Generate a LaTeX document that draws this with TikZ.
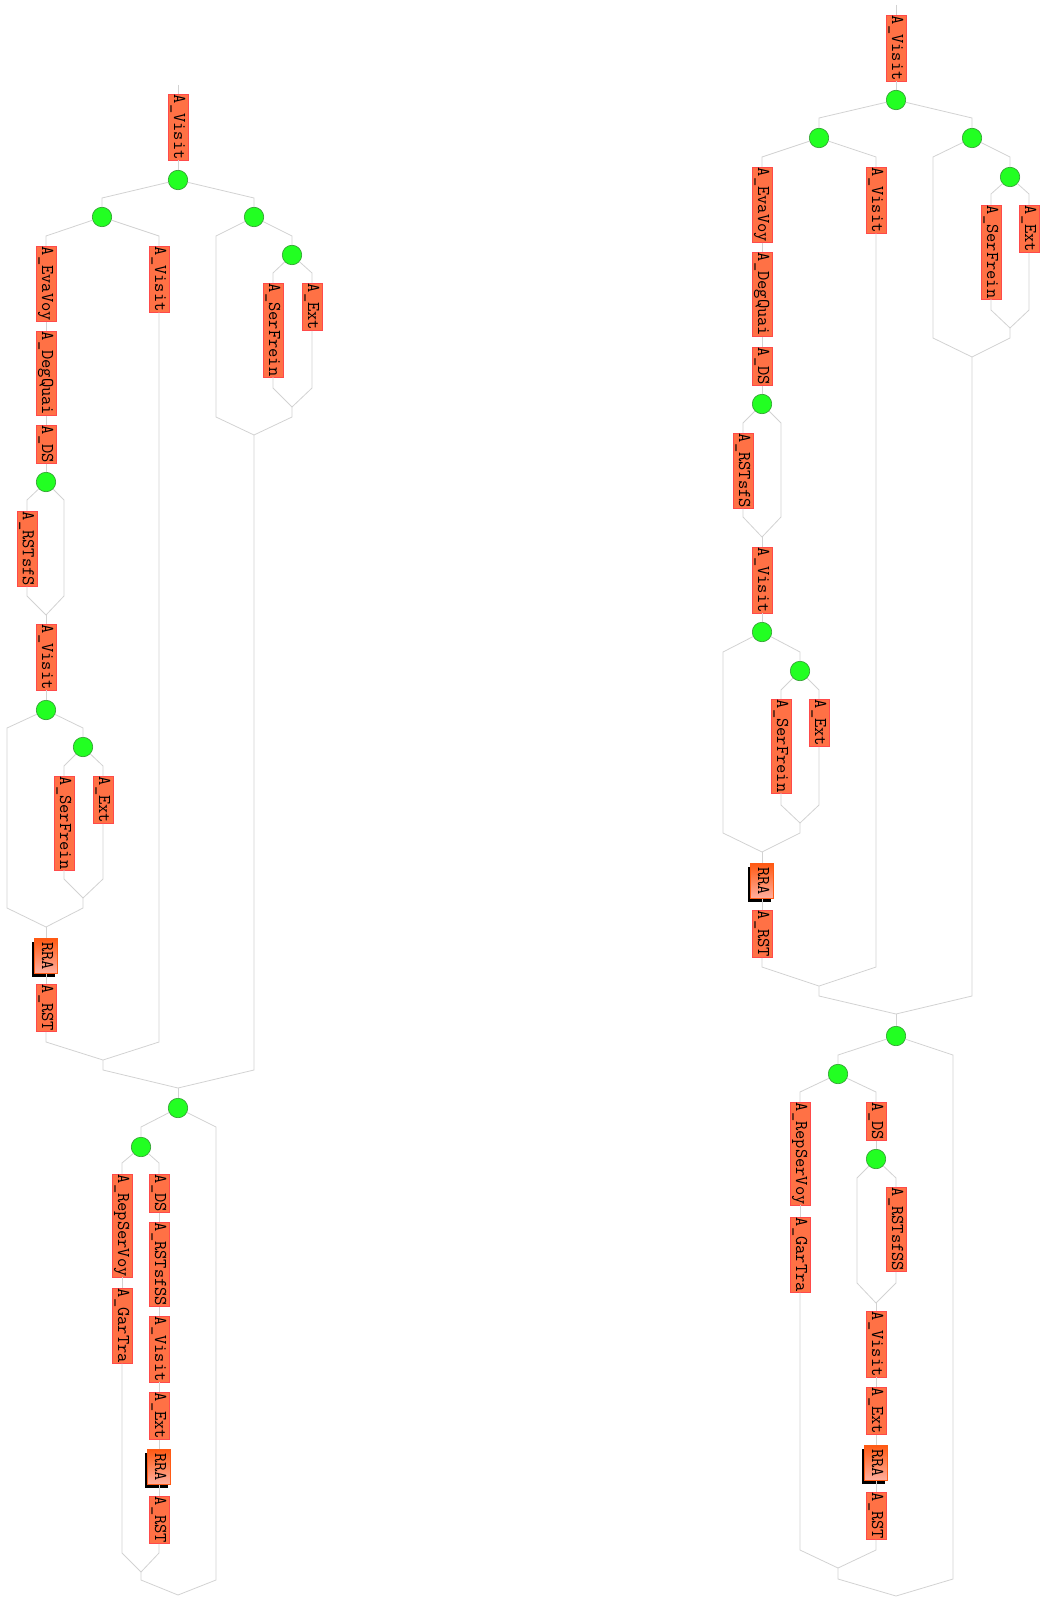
\documentclass[tikz,border=0pt]{standalone}
\usepackage{fontspec}
\usetikzlibrary{shadows}
\definecolor{actfill}{HTML}{FF7145}
\definecolor{actline}{HTML}{FF4A4A}
\definecolor{gatefill}{HTML}{22FF22}
\definecolor{gateline}{HTML}{2F9A2F}
\definecolor{linkgray}{HTML}{D2D2D2}
\definecolor{rraline}{HTML}{FF5A14}
\definecolor{rralight}{HTML}{FFB0A0}

\begin{document}
\begin{tikzpicture}[x=1pt,y=-1pt,
  actbox/.style={rectangle,draw=actline,fill=actfill,line width=0.5pt,rotate=-90,anchor=west,
    font=\fontsize{18}{18}\selectfont\ttfamily,inner xsep=0.5pt,inner ysep=0pt,
    text height=12pt,text depth=4pt,minimum height=20pt},
  rrabox/.style={actbox,draw=rraline,line width=1.5pt,top color=rraline,bottom color=rralight,
    inner xsep=3.5pt,minimum height=23pt,
    drop shadow={shadow xshift=-2.5pt,shadow yshift=-3pt,opacity=1,fill=black}},
  gate/.style={circle,draw=gateline,fill=gatefill,line width=0.6pt,minimum size=19.5pt,inner sep=0pt},
  link/.style={draw=linkgray,line width=0.8pt}]
  \useasboundingbox (0,0) rectangle (1042,1597);

  % left tree
  \coordinate (ltop) at (178,85);
  \node[actbox] (lvisit) at (178,94) {A\_Visit};
  \node[gate] (lg1) at (178,180) {};
  \node[gate] (lg2) at (102,217) {};
  \node[gate] (lg3) at (254,217) {};
  \node[actbox] (leva) at (46,246) {A\_EvaVoy};
  \node[actbox] (ldeg) at (46,331) {A\_DegQuai};
  \node[actbox] (lds) at (46,425) {A\_DS};
  \node[actbox] (lvisitb) at (159,246) {A\_Visit};
  \node[gate] (lg4) at (292,255) {};
  \node[actbox] (lserf) at (273,283) {A\_SerFrein};
  \node[actbox] (lext) at (312,283) {A\_Ext};
  \node[gate] (lg5) at (46,482) {};
  \node[actbox] (lrsts) at (27,511) {A\_RSTsfS};
  \node[actbox] (lvisitc) at (46,624) {A\_Visit};
  \node[gate] (lg6) at (46,710) {};
  \node[gate] (lg7) at (83,747) {};
  \node[actbox] (lserfb) at (64,776) {A\_SerFrein};
  \node[actbox] (lextb) at (103,776) {A\_Ext};
  \node[rrabox] (lrra) at (46,938) {RRA};
  \node[actbox] (lrst) at (46,984) {A\_RST};
  \node[gate] (lg8) at (178,1108) {};
  \node[gate] (lg9) at (141,1147) {};
  \node[actbox] (lrep) at (122,1174) {A\_RepSerVoy};
  \node[actbox] (lgar) at (122,1288) {A\_GarTra};
  \node[actbox] (ldsb) at (159,1174) {A\_DS};
  \node[actbox] (lrstss) at (159,1222) {A\_RSTsfSS};
  \node[actbox] (lvisitd) at (159,1316) {A\_Visit};
  \node[actbox] (lextc) at (159,1392) {A\_Ext};
  \node[rrabox] (lrrab) at (159,1449) {RRA};
  \node[actbox] (lrstb) at (159,1496) {A\_RST};
  % join points
  \coordinate (lj5) at (46,615);
  \coordinate (lj7) at (83,898);
  \coordinate (lj6) at (46,927);
  \coordinate (lj4) at (292,407);
  \coordinate (lj3) at (254,435);
  \coordinate (lj2) at (103,1060);
  \coordinate (lj1) at (178,1088);
  \coordinate (lj9) at (141,1572);
  \coordinate (lj8) at (178,1595);

  \draw[link] (ltop) -- (lvisit.west);
  \draw[link] (lvisit.east) -- (lg1);
  \draw[link] (lg1) -- (102,198) -- (lg2);
  \draw[link] (lg1) -- (254,198) -- (lg3);
  \draw[link] (lg2) -- (46,236) -- (leva.west);
  \draw[link] (leva.east) -- (ldeg.west);
  \draw[link] (ldeg.east) -- (lds.west);
  \draw[link] (lds.east) -- (lg5);
  \draw[link] (lg2) -- (159,236) -- (lvisitb.west);
  \draw[link] (lvisitb.east) -- (159,1042) -- (lj2);
  \draw[link] (lg5) -- (27,500) -- (lrsts.west);
  \draw[link] (lrsts.east) -- (27,596) -- (lj5);
  \draw[link] (lg5) -- (64,500) -- (64,596) -- (lj5);
  \draw[link] (lj5) -- (lvisitc.west);
  \draw[link] (lvisitc.east) -- (lg6);
  \draw[link] (lg6) -- (7,728) -- (7,908) -- (lj6);
  \draw[link] (lg6) -- (83,728) -- (lg7);
  \draw[link] (lg7) -- (64,766) -- (lserfb.west);
  \draw[link] (lserfb.east) -- (64,879) -- (lj7);
  \draw[link] (lg7) -- (103,766) -- (lextb.west);
  \draw[link] (lextb.east) -- (103,879) -- (lj7);
  \draw[link] (lj7) -- (83,908) -- (lj6);
  \draw[link] (lj6) -- (lrra.west);
  \draw[link] (lrra.east) -- (lrst.west);
  \draw[link] (lrst.east) -- (46,1042) -- (lj2);
  \draw[link] (lj2) -- (103,1070) -- (lj1);
  \draw[link] (lg3) -- (216,236) -- (216,417) -- (lj3);
  \draw[link] (lg3) -- (292,236) -- (lg4);
  \draw[link] (lg4) -- (273,273) -- (lserf.west);
  \draw[link] (lserf.east) -- (273,388) -- (lj4);
  \draw[link] (lg4) -- (312,273) -- (lext.west);
  \draw[link] (lext.east) -- (312,388) -- (lj4);
  \draw[link] (lj4) -- (292,417) -- (lj3);
  \draw[link] (lj3) -- (254,1070) -- (lj1);
  \draw[link] (lj1) -- (lg8);
  \draw[link] (lg8) -- (141,1127) -- (lg9);
  \draw[link] (lg8) -- (216,1127) -- (216,1580) -- (lj8);
  \draw[link] (lg9) -- (122,1163) -- (lrep.west);
  \draw[link] (lrep.east) -- (lgar.west);
  \draw[link] (lgar.east) -- (122,1553) -- (lj9);
  \draw[link] (lg9) -- (159,1163) -- (ldsb.west);
  \draw[link] (ldsb.east) -- (lrstss.west);
  \draw[link] (lrstss.east) -- (lvisitd.west);
  \draw[link] (lvisitd.east) -- (lextc.west);
  \draw[link] (lextc.east) -- (lrrab.west);
  \draw[link] (lrrab.east) -- (lrstb.west);
  \draw[link] (lrstb.east) -- (159,1553) -- (lj9);
  \draw[link] (lj9) -- (141,1580) -- (lj8);

  % right tree
  \coordinate (rtop) at (896,5);
  \node[actbox] (rvisit) at (896,15) {A\_Visit};
  \node[gate] (rg1) at (896,100) {};
  \node[gate] (rg2) at (819,138) {};
  \node[gate] (rg3) at (972,138) {};
  \node[actbox] (reva) at (762,167) {A\_EvaVoy};
  \node[actbox] (rdeg) at (762,252) {A\_DegQuai};
  \node[actbox] (rds) at (762,347) {A\_DS};
  \node[actbox] (rvisitb) at (876,167) {A\_Visit};
  \node[gate] (rg4) at (1010,177) {};
  \node[actbox] (rserf) at (991,205) {A\_SerFrein};
  \node[actbox] (rext) at (1029,205) {A\_Ext};
  \node[gate] (rg5) at (762,404) {};
  \node[actbox] (rrsts) at (743,433) {A\_RSTsfS};
  \node[actbox] (rvisitc) at (762,547) {A\_Visit};
  \node[gate] (rg6) at (762,632) {};
  \node[gate] (rg7) at (800,671) {};
  \node[actbox] (rserfb) at (781,699) {A\_SerFrein};
  \node[actbox] (rextb) at (819,699) {A\_Ext};
  \node[rrabox] (rrra) at (762,863) {RRA};
  \node[actbox] (rrst) at (762,910) {A\_RST};
  \node[gate] (rg8) at (896,1036) {};
  \node[gate] (rg9) at (838,1074) {};
  \node[actbox] (rrep) at (800,1102) {A\_RepSerVoy};
  \node[actbox] (rgar) at (800,1217) {A\_GarTra};
  \node[actbox] (rdsb) at (876,1102) {A\_DS};
  \node[gate] (rg10) at (876,1159) {};
  \node[actbox] (rrstss) at (896,1187) {A\_RSTsfSS};
  \node[actbox] (rvisitd) at (876,1311) {A\_Visit};
  \node[actbox] (rextc) at (876,1387) {A\_Ext};
  \node[rrabox] (rrrab) at (876,1445) {RRA};
  \node[actbox] (rrstb) at (876,1492) {A\_RST};
  % join points
  \coordinate (rj5) at (762,537);
  \coordinate (rj7) at (800,823);
  \coordinate (rj6) at (762,852);
  \coordinate (rj4) at (1010,328);
  \coordinate (rj3) at (972,357);
  \coordinate (rj2) at (819,986);
  \coordinate (rj1) at (896,1014);
  \coordinate (rj10) at (876,1303);
  \coordinate (rj9) at (838,1568);
  \coordinate (rj8) at (896,1596);

  \draw[link] (rtop) -- (rvisit.west);
  \draw[link] (rvisit.east) -- (rg1);
  \draw[link] (rg1) -- (819,118) -- (rg2);
  \draw[link] (rg1) -- (972,118) -- (rg3);
  \draw[link] (rg2) -- (762,157) -- (reva.west);
  \draw[link] (reva.east) -- (rdeg.west);
  \draw[link] (rdeg.east) -- (rds.west);
  \draw[link] (rds.east) -- (rg5);
  \draw[link] (rg2) -- (876,157) -- (rvisitb.west);
  \draw[link] (rvisitb.east) -- (876,967) -- (rj2);
  \draw[link] (rg5) -- (743,423) -- (rrsts.west);
  \draw[link] (rrsts.east) -- (743,517) -- (rj5);
  \draw[link] (rg5) -- (781,423) -- (781,517) -- (rj5);
  \draw[link] (rj5) -- (rvisitc.west);
  \draw[link] (rvisitc.east) -- (rg6);
  \draw[link] (rg6) -- (723,652) -- (723,833) -- (rj6);
  \draw[link] (rg6) -- (800,652) -- (rg7);
  \draw[link] (rg7) -- (781,690) -- (rserfb.west);
  \draw[link] (rserfb.east) -- (781,805) -- (rj7);
  \draw[link] (rg7) -- (819,690) -- (rextb.west);
  \draw[link] (rextb.east) -- (819,805) -- (rj7);
  \draw[link] (rj7) -- (800,833) -- (rj6);
  \draw[link] (rj6) -- (rrra.west);
  \draw[link] (rrra.east) -- (rrst.west);
  \draw[link] (rrst.east) -- (762,967) -- (rj2);
  \draw[link] (rj2) -- (819,996) -- (rj1);
  \draw[link] (rg3) -- (933,157) -- (933,338) -- (rj3);
  \draw[link] (rg3) -- (1010,157) -- (rg4);
  \draw[link] (rg4) -- (991,194) -- (rserf.west);
  \draw[link] (rserf.east) -- (991,310) -- (rj4);
  \draw[link] (rg4) -- (1029,194) -- (rext.west);
  \draw[link] (rext.east) -- (1029,310) -- (rj4);
  \draw[link] (rj4) -- (1010,338) -- (rj3);
  \draw[link] (rj3) -- (972,996) -- (rj1);
  \draw[link] (rj1) -- (rg8);
  \draw[link] (rg8) -- (838,1055) -- (rg9);
  \draw[link] (rg8) -- (953,1055) -- (953,1579) -- (rj8);
  \draw[link] (rg9) -- (800,1092) -- (rrep.west);
  \draw[link] (rrep.east) -- (rgar.west);
  \draw[link] (rgar.east) -- (800,1550) -- (rj9);
  \draw[link] (rg9) -- (876,1092) -- (rdsb.west);
  \draw[link] (rdsb.east) -- (rg10);
  \draw[link] (rg10) -- (857,1178) -- (857,1283) -- (rj10);
  \draw[link] (rg10) -- (896,1178) -- (rrstss.west);
  \draw[link] (rrstss.east) -- (896,1283) -- (rj10);
  \draw[link] (rj10) -- (rvisitd.west);
  \draw[link] (rvisitd.east) -- (rextc.west);
  \draw[link] (rextc.east) -- (rrrab.west);
  \draw[link] (rrrab.east) -- (rrstb.west);
  \draw[link] (rrstb.east) -- (876,1550) -- (rj9);
  \draw[link] (rj9) -- (838,1579) -- (rj8);
\end{tikzpicture}
\end{document}
